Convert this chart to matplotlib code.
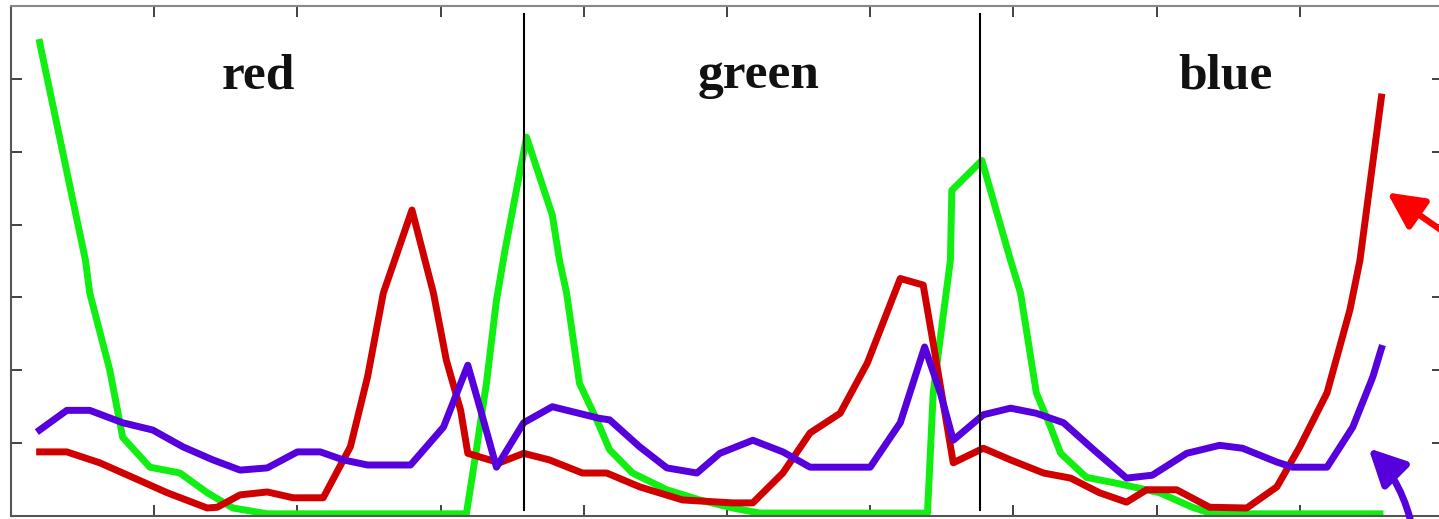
import matplotlib
matplotlib.use('Agg')
import matplotlib.pyplot as plt

# values, x in 0..100, y in 0..70
red_x = [2.0, 3.9, 6.2, 8.5, 10.9, 13.7, 14.4, 16.0, 17.9, 19.7, 21.8, 23.7, 24.9, 26.0, 28.0,
         29.5, 30.4, 31.4, 31.9, 34.1, 35.8, 37.6, 39.9, 41.6, 43.9, 46.9, 50.4, 51.8, 53.9,
         55.8, 57.9, 59.8, 62.1, 63.7, 64.4, 65.1, 65.8, 67.9, 69.8, 72.1, 74.0, 76.0, 77.9,
         79.3, 81.4, 83.7, 86.3, 88.4, 90.0, 91.9, 93.5, 94.2, 95.7]
red_y = [8.8, 8.8, 7.3, 5.3, 3.2, 1.1, 1.2, 2.9, 3.3, 2.5, 2.5, 9.5, 19.1, 30.6, 42.0,
         30.6, 21.4, 14.5, 8.6, 7.3, 8.6, 7.7, 5.9, 5.9, 4.0, 2.2, 1.8, 1.8, 5.9,
         11.4, 14.1, 21.0, 32.6, 31.7, 23.7, 15.5, 7.3, 9.3, 7.7, 5.9, 5.2, 3.2, 1.9,
         3.6, 3.6, 1.2, 1.1, 4.0, 9.5, 16.9, 28.3, 35.1, 57.5]

green_x = [2.0, 5.2, 5.5, 6.9, 7.8, 9.7, 11.8, 13.7, 15.5, 17.9, 31.8, 32.5, 33.2, 33.9, 34.5,
           36.0, 37.8, 38.3, 38.8, 39.7, 40.9, 41.8, 43.4, 45.8, 48.1, 50.4, 52.3, 64.0, 64.4,
           65.6, 65.7, 67.8, 69.8, 70.5, 71.6, 72.6, 73.3, 75.1, 77.2, 80.2, 82.5, 83.9, 95.6]
green_y = [65.0, 35.1, 30.6, 20.0, 10.8, 6.7, 5.9, 3.2, 1.1, 0.3, 0.3, 9.1, 18.2, 29.6, 36.5,
           52.0, 41.3, 35.1, 30.6, 18.2, 13.2, 9.1, 5.9, 3.6, 2.2, 1.1, 0.4, 0.4, 16.9,
           35.1, 44.7, 48.8, 35.1, 30.6, 16.9, 12.2, 8.6, 5.3, 4.5, 3.2, 1.2, 0.3, 0.3]

blue_x = [2.0, 3.9, 5.5, 7.8, 9.9, 12.0, 14.1, 16.0, 17.9, 20.0, 21.6, 23.2, 24.9, 27.9, 30.2,
          31.9, 32.8, 33.9, 35.8, 37.8, 41.1, 41.8, 43.9, 45.8, 47.9, 49.5, 51.8, 53.9, 55.8,
          60.0, 62.1, 63.8, 64.9, 65.8, 67.9, 69.8, 71.6, 73.5, 75.6, 77.9, 79.7, 82.1, 84.4,
          86.0, 88.4, 89.5, 91.9, 93.7, 95.1, 95.7]
blue_y = [11.8, 14.5, 14.5, 12.8, 11.8, 9.5, 7.7, 6.3, 6.6, 8.8, 8.8, 7.7, 7.0, 7.0, 12.2,
          20.7, 14.5, 6.7, 12.8, 15.0, 13.4, 13.2, 9.5, 6.6, 5.9, 8.6, 10.4, 8.8, 6.7,
          6.7, 12.8, 23.2, 16.9, 10.4, 13.9, 14.8, 14.1, 12.8, 9.1, 5.2, 5.6, 8.6, 9.7,
          9.3, 7.4, 6.7, 6.7, 12.2, 19.1, 23.0]

panel_names = ['red', 'green', 'blue']
panel_centers = [17.3, 52.2, 84.8]
dividers = [35.8, 67.7]

fig = plt.figure(figsize=(14.39, 5.19), dpi=100)
ax = fig.add_axes([11 / 1439, 3 / 519, 1432 / 1439, 510 / 519])

ax.plot(red_x, red_y, color='#d00000', lw=5, solid_joinstyle='round', zorder=3)
ax.plot(green_x, green_y, color='#11ee11', lw=5, solid_joinstyle='round', zorder=2)
ax.plot(blue_x, blue_y, color='#5500dd', lw=5, solid_joinstyle='round', zorder=4)

for d in dividers:
    ax.plot([d, d], [0.8, 68.9], color='black', lw=1.5, zorder=5)

for name, cx in zip(panel_names, panel_centers):
    ax.text(cx, 58.7, name, ha='center', va='baseline', fontsize=37,
            fontweight='bold', family='Liberation Serif', color='#111111')

ax.annotate('', xy=(96.1, 44.4), xytext=(101.5, 37.0), annotation_clip=False,
            arrowprops=dict(arrowstyle='-|>', color='#ff0000', lw=4.5, mutation_scale=55,
                            shrinkA=0, shrinkB=0))
ax.annotate('', xy=(94.8, 9.3), xytext=(97.9, -2.0), annotation_clip=False,
            arrowprops=dict(arrowstyle='-|>', color='#5500dd', lw=5, mutation_scale=55,
                            shrinkA=0, shrinkB=0, connectionstyle='arc3,rad=0.15'))

ax.set_xlim(0, 100)
ax.set_ylim(0, 70)
ax.set_xticks(range(10, 100, 10))
ax.set_yticks(range(10, 70, 10))
ax.tick_params(direction='in', top=True, right=True, length=8, width=1.3,
               color='#333333', labelbottom=False, labelleft=False)
for s in ax.spines.values():
    s.set_color('#555555')
    s.set_linewidth(1.5)
ax.spines['top'].set_color('#888888')

fig.savefig('out.png', dpi=100)
